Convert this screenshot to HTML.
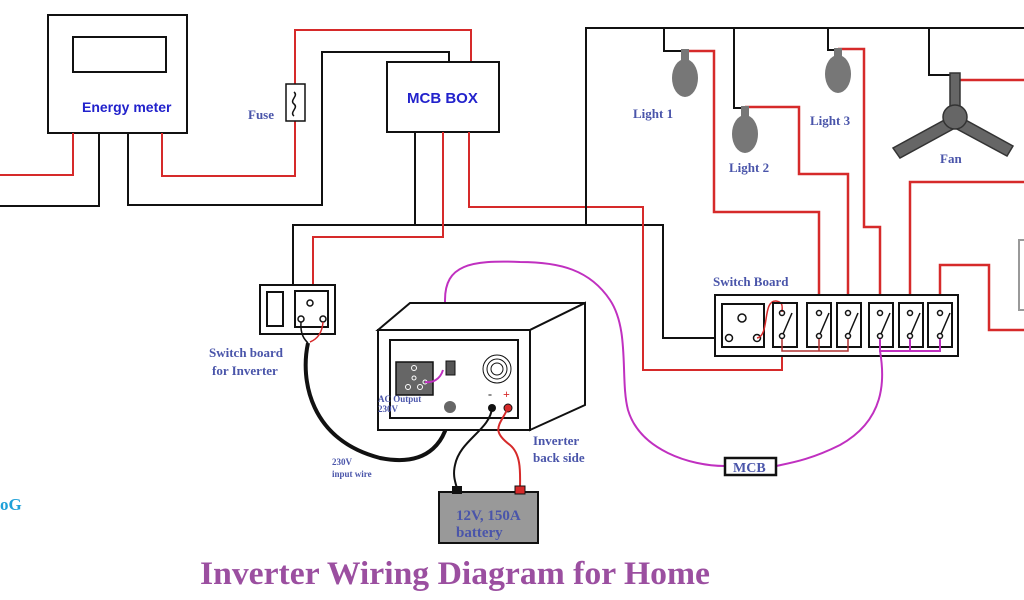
<!DOCTYPE html>
<html><head><meta charset="utf-8"><style>body{margin:0;background:#fff}svg{display:block}</style></head><body>
<svg width="1024" height="600" viewBox="0 0 1024 600" xmlns="http://www.w3.org/2000/svg" font-family="Liberation Serif, serif">
<g fill="none" stroke-linejoin="miter">
<rect x="48" y="15" width="139" height="118" stroke="#111" stroke-width="2" fill="#fff"/>
<rect x="73" y="37" width="93" height="35" stroke="#111" stroke-width="2"/>
<polyline points="73,133 73,175 0,175" stroke="#d62a2a" stroke-width="2"/>
<polyline points="99,133 99,206 0,206" stroke="#111" stroke-width="2"/>
<polyline points="128,133 128,205 322,205 322,52 449,52 449,62" stroke="#111" stroke-width="2"/>
<polyline points="162,133 162,176 295,176 295,30 471,30 471,62" stroke="#d62a2a" stroke-width="2"/>
<rect x="286" y="84" width="19" height="37" stroke="#111" stroke-width="1.5" fill="#fff"/>
<path d="M294,92 c5,4 -5,8 0,12 c5,4 -5,8 0,12" stroke="#111" stroke-width="1.5"/>
<rect x="387" y="62" width="112" height="70" stroke="#111" stroke-width="2" fill="#fff"/>
<polyline points="415,132 415,225 293,225 293,285" stroke="#111" stroke-width="2"/>
<polyline points="415,225 663,225 663,338 730,338" stroke="#111" stroke-width="2"/>
<polyline points="443,132 443,237 313,237 313,285" stroke="#d62a2a" stroke-width="2"/>
<polyline points="469,132 469,207 643,207 643,370 782,370 782,340" stroke="#d62a2a" stroke-width="2"/>
<polyline points="586,225 586,28 1024,28" stroke="#111" stroke-width="2"/>
<polyline points="664,28 664,51 685,51" stroke="#111" stroke-width="2"/>
<polyline points="734,28 734,108 745,108" stroke="#111" stroke-width="2"/>
<polyline points="828,28 828,50 838,50" stroke="#111" stroke-width="2"/>
<polyline points="929,28 929,75 955,75" stroke="#111" stroke-width="2"/>
<polyline points="685,51 714,51 714,212 819,212 819,312" stroke="#d62a2a" stroke-width="2.5"/>
<polyline points="745,107 799,107 799,174 848,174 848,312" stroke="#d62a2a" stroke-width="2.5"/>
<polyline points="838,49 864,49 864,227 880,227 880,312" stroke="#d62a2a" stroke-width="2.5"/>
<polyline points="960,80 1024,80" stroke="#d62a2a" stroke-width="2.5"/>
<polyline points="910,312 910,182 1024,182" stroke="#d62a2a" stroke-width="2.5"/>
<polyline points="940,312 940,265 989,265 989,330 1024,330" stroke="#d62a2a" stroke-width="2.5"/>
<rect x="1019" y="240" width="8" height="70" stroke="#999" stroke-width="2"/>
<g fill="#777" stroke="none">
<rect x="681" y="49" width="8" height="14"/><ellipse cx="685" cy="78" rx="13" ry="19"/>
<rect x="741" y="106" width="8" height="14"/><ellipse cx="745" cy="134" rx="13" ry="19"/>
<rect x="834" y="48" width="8" height="14"/><ellipse cx="838" cy="74" rx="13" ry="19"/>
</g>
<g fill="#666" stroke="#333" stroke-width="1.5">
<rect x="950" y="73" width="10" height="40"/>
<polygon points="948,118 893,148 900,158 955,128"/>
<polygon points="962,118 1013,146 1007,156 955,128"/>
<circle cx="955" cy="117" r="12"/>
</g>
<rect x="715" y="295" width="243" height="61" stroke="#111" stroke-width="2" fill="#fff"/>
<rect x="722" y="304" width="42" height="43" stroke="#111" stroke-width="2"/>
<circle cx="742" cy="318" r="4" stroke="#111" stroke-width="1.5"/>
<circle cx="729" cy="338" r="3.5" stroke="#111" stroke-width="1.5"/>
<circle cx="757" cy="338" r="3.5" stroke="#111" stroke-width="1.5"/>
<path d="M757,338 C770,336 762,300 776,301 C784,302 782,308 782,312" stroke="#d62a2a" stroke-width="1.5"/>
<g stroke="#111" stroke-width="2">
<rect x="773" y="303" width="24" height="44"/><rect x="807" y="303" width="24" height="44"/>
<rect x="837" y="303" width="24" height="44"/><rect x="869" y="303" width="24" height="44"/>
<rect x="899" y="303" width="24" height="44"/><rect x="928" y="303" width="24" height="44"/>
</g>
<g stroke="#111" stroke-width="1.5">
<circle cx="782" cy="313" r="2.5"/><circle cx="782" cy="336" r="2.5"/><line x1="783" y1="334" x2="792" y2="313"/>
<circle cx="819" cy="313" r="2.5"/><circle cx="819" cy="336" r="2.5"/><line x1="820" y1="334" x2="829" y2="313"/>
<circle cx="848" cy="313" r="2.5"/><circle cx="848" cy="336" r="2.5"/><line x1="849" y1="334" x2="858" y2="313"/>
<circle cx="880" cy="313" r="2.5"/><circle cx="880" cy="336" r="2.5"/><line x1="881" y1="334" x2="890" y2="313"/>
<circle cx="910" cy="313" r="2.5"/><circle cx="910" cy="336" r="2.5"/><line x1="911" y1="334" x2="920" y2="313"/>
<circle cx="940" cy="313" r="2.5"/><circle cx="940" cy="336" r="2.5"/><line x1="941" y1="334" x2="950" y2="313"/>
</g>
<polyline points="782,339 782,351 848,351 848,339" stroke="#b03030" stroke-width="1.5"/>
<line x1="819" y1="339" x2="819" y2="351" stroke="#b03030" stroke-width="1.5"/>
<polyline points="880,339 880,351 940,351 940,339" stroke="#c030c0" stroke-width="2"/>
<line x1="910" y1="339" x2="910" y2="351" stroke="#c030c0" stroke-width="2"/>
<path d="M880,351 C885,380 885,420 840,445 C810,460 790,463 776,466" stroke="#c030c0" stroke-width="2"/>
<path d="M725,466 C690,466 640,450 628,410 C620,380 630,330 610,300 C590,270 560,262 520,262 C470,260 445,265 445,300 C445,340 450,385 435,385" stroke="#c030c0" stroke-width="2"/>
<rect x="725" y="458" width="51" height="17" stroke="#111" stroke-width="2.5" fill="#fff"/>
<rect x="260" y="285" width="75" height="49" stroke="#111" stroke-width="2" fill="#fff"/>
<rect x="267" y="292" width="16" height="34" stroke="#111" stroke-width="2"/>
<rect x="295" y="291" width="33" height="36" stroke="#111" stroke-width="2"/>
<circle cx="310" cy="303" r="3" stroke="#111" stroke-width="1.5"/>
<circle cx="301" cy="319" r="3" stroke="#111" stroke-width="1.5"/>
<circle cx="323" cy="319" r="3" stroke="#111" stroke-width="1.5"/>
<path d="M301,322 C300,335 305,340 308,343" stroke="#111" stroke-width="1.5"/>
<path d="M323,322 C322,335 315,340 310,342" stroke="#d62a2a" stroke-width="1.5"/>
<path d="M308,343 C300,380 310,440 380,458 C430,468 448,440 450,407" stroke="#111" stroke-width="4"/>
<polygon points="378,330 410,303 585,303 530,330" stroke="#111" stroke-width="2" fill="#fff"/>
<polygon points="530,330 585,303 585,405 530,430" stroke="#111" stroke-width="2" fill="#fff"/>
<rect x="378" y="330" width="152" height="100" stroke="#111" stroke-width="2" fill="#fff"/>
<rect x="390" y="340" width="128" height="78" stroke="#111" stroke-width="2"/>
<rect x="396" y="362" width="37" height="33" fill="#666" stroke="#111" stroke-width="1.5"/>
<g stroke="#fff" stroke-width="1"><circle cx="414" cy="368" r="2.5"/><circle cx="414" cy="378" r="2"/><circle cx="408" cy="387" r="2.5"/><circle cx="420" cy="387" r="2.5"/><circle cx="425" cy="382" r="2"/></g>
<path d="M425,382 C432,383 440,380 443,370" stroke="#c030c0" stroke-width="2"/>
<rect x="446" y="361" width="9" height="14" fill="#555" stroke="#111"/>
<circle cx="497" cy="369" r="14" stroke="#111" stroke-width="1"/>
<circle cx="497" cy="369" r="10" stroke="#111" stroke-width="1"/>
<circle cx="497" cy="369" r="6" stroke="#111" stroke-width="1"/>
<circle cx="450" cy="407" r="6" fill="#666" stroke="none"/>
<circle cx="492" cy="408" r="4" fill="#111"/>
<circle cx="508" cy="408" r="4" fill="#d62a2a" stroke="#111"/>
<path d="M492,408 C490,430 460,440 455,465 C452,478 457,485 457,490" stroke="#111" stroke-width="2"/>
<path d="M508,408 C500,425 490,430 510,445 C522,455 520,475 520,490" stroke="#d62a2a" stroke-width="2"/>
<rect x="439" y="492" width="99" height="51" fill="#999" stroke="#111" stroke-width="2"/>
<rect x="452" y="486" width="10" height="8" fill="#111"/>
<rect x="515" y="486" width="10" height="8" fill="#d62a2a" stroke="#111"/>
</g>
<g font-family="Liberation Sans, sans-serif" font-weight="bold" fill="#2222cc">
<text x="82" y="112" font-size="14">Energy meter</text>
<text x="407" y="103" font-size="15">MCB BOX</text>
</g>
<g font-weight="bold" fill="#4a55aa" font-size="13">
<text x="248" y="119">Fuse</text>
<text x="633" y="118">Light 1</text>
<text x="729" y="172">Light 2</text>
<text x="810" y="125">Light 3</text>
<text x="940" y="163">Fan</text>
<text x="713" y="286">Switch Board</text>
<text x="209" y="357">Switch board</text>
<text x="212" y="375">for Inverter</text>
<text x="533" y="445">Inverter</text>
<text x="533" y="462">back side</text>
<text x="456" y="520" font-size="15">12V, 150A</text>
<text x="456" y="537" font-size="15">battery</text>
<text x="733" y="472" font-size="14">MCB</text>
<text x="378" y="402" font-size="9">AC Output</text>
<text x="378" y="412" font-size="9">230V</text>
<text x="332" y="465" font-size="9">230V</text>
<text x="332" y="477" font-size="9">input wire</text>
<text x="488" y="398" font-size="12" fill="#222">-</text>
<text x="503" y="398" font-size="12" fill="#d62a2a">+</text>
</g>
<text x="0" y="510" font-size="17" font-weight="bold" fill="#1ea0d8">oG</text>
<text x="200" y="584" font-size="33" font-weight="bold" fill="#9b4fa0" textLength="510" lengthAdjust="spacingAndGlyphs">Inverter Wiring Diagram for Home</text>
</svg>
</body></html>
